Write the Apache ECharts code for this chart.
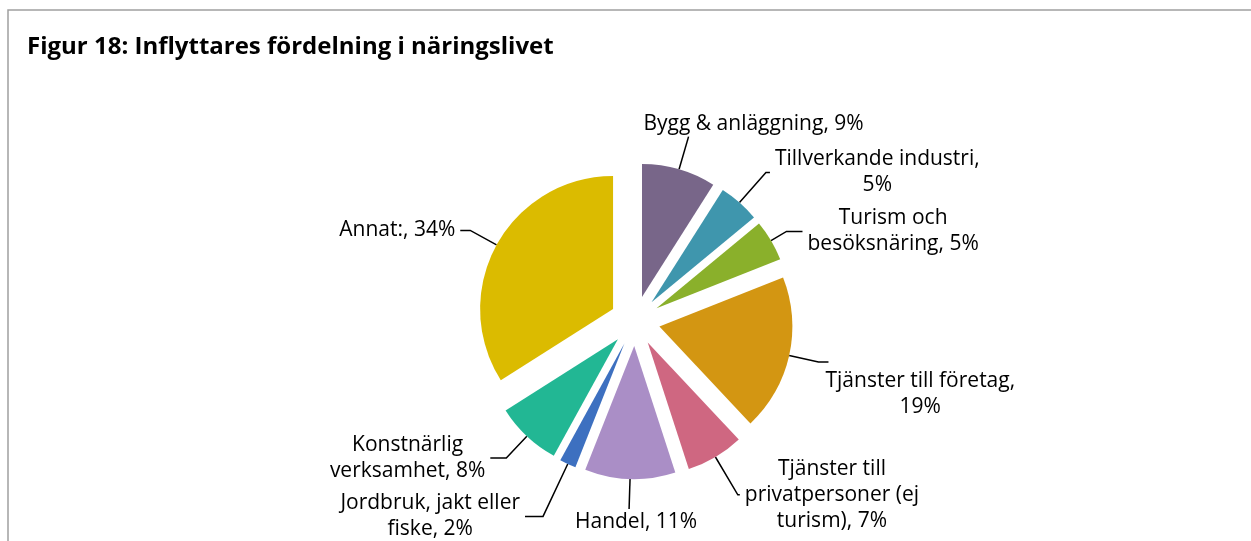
<!DOCTYPE html>
<html lang="sv">
  <head>
    <meta charset="UTF-8" />
    <title>Figur 18</title>
    <script src="https://cdn.jsdelivr.net/npm/echarts@6/dist/echarts.min.js"></script>
    <style>
      html, body { margin: 0; padding: 0; background: #fff; overflow: hidden; }
      #chart { width: 1251px; height: 541px; }
    </style>
  </head>
  <body>
    <div id="chart"></div>
    <script>
      var categories = [
        "Bygg & anläggning",
        "Tillverkande industri",
        "Turism och besöksnäring",
        "Tjänster till företag",
        "Tjänster till privatpersoner (ej turism)",
        "Handel",
        "Jordbruk, jakt eller fiske",
        "Konstnärlig verksamhet",
        "Annat:",
      ];
      // label lines as wrapped in the figure
      var labelTexts = [
        ["Bygg & anläggning, 9%"],
        ["Tillverkande industri,", "5%"],
        ["Turism och", "besöksnäring, 5%"],
        ["Tjänster till företag,", "19%"],
        ["Tjänster till", "privatpersoner (ej", "turism), 7%"],
        ["Handel, 11%"],
        ["Jordbruk, jakt eller", "fiske, 2%"],
        ["Konstnärlig", "verksamhet, 8%"],
        ["Annat:, 34%"],
      ];
      var values = [9, 5, 5, 19, 7, 11, 2, 8, 34];
      var colors = [
        "#786689", "#3f96ad", "#8ab02b", "#d39612", "#cf6781",
        "#aa8ec6", "#3d70c0", "#22b794", "#dbbb00",
      ];
      var lineLen = [34, 40, 18, 30, 44, 30, 58, 30, 30];
      var lineLen2 = [0, 4, 16, 10, 2, 0, 18, 16, 10];

      var chart = echarts.init(document.getElementById("chart"));
      var data = categories.map(function (c, i) {
        return {
          name: c,
          value: values[i],
          selected: true,
          itemStyle: { color: colors[i] },
          label: {
            formatter: labelTexts[i].map(function (t) { return "{c|" + t + "}"; }).join("\n"),
          },
          labelLine: { length: lineLen[i], length2: lineLen2[i] },
        };
      });

      chart.setOption({
        animation: false,
        title: {
          text: "Figur 18: Inflyttares fördelning i näringslivet",
          left: 22,
          top: 30,
          textStyle: {
            fontFamily: "Open Sans",
            fontWeight: "bold",
            fontSize: 24,
            color: "#000",
          },
        },
        graphic: [
          {
            type: "rect",
            shape: { x: 8, y: 10, width: 1300, height: 600 },
            style: { fill: null, stroke: "#a0a0a0", lineWidth: 1.5 },
            silent: true,
          },
        ],
        series: [
          {
            type: "pie",
            center: [635, 321],
            radius: 133,
            startAngle: 90,
            selectedMode: "multiple",
            selectedOffset: 25,
            avoidLabelOverlap: false,
            data: data,
            label: {
              show: true,
              position: "outside",
              color: "#000",
              rich: {
                c: {
                  fontFamily: "Open Sans",
                  fontSize: 21,
                  lineHeight: 26,
                  color: "#000",
                  align: "center",
                },
              },
            },
            labelLine: {
              show: true,
              lineStyle: { color: "#000", width: 1.5 },
            },
            labelLayout: function (p) {
              // top and bottom labels sit above / below their leader line
              if (p.dataIndex === 0) {
                return { align: "center", verticalAlign: "bottom", dx: 60 };
              }
              if (p.dataIndex === 3) {
                return { dy: 32, dx: -8 };
              }
              if (p.dataIndex === 5) {
                return { align: "center", verticalAlign: "top", dx: 12 };
              }
            },
            emphasis: { disabled: true },
          },
        ],
      });
      window.onresize = chart.resize;
    </script>
  </body>
</html>
